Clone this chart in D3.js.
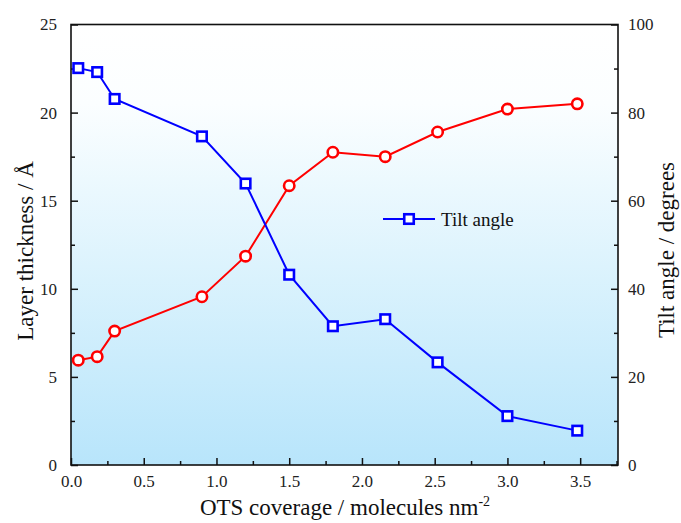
<!DOCTYPE html>
<html>
<head>
<meta charset="utf-8">
<script src="https://cdn.jsdelivr.net/npm/d3@7"></script>
<style>
  body { margin: 0; background: #fff; }
  svg { display: block; }
  text { font-family: "Times New Roman", "Liberation Serif", Tinos, "DejaVu Serif", serif; }
  .tick text { fill: #222; font-size: 17px; }
</style>
</head>
<body>
<div id="container"></div>
<script>
// chart values
var coverage = [0.05, 0.18, 0.30, 0.90, 1.20, 1.50, 1.80, 2.16, 2.52, 3.00, 3.48];
var thickness = [5.95, 6.15, 7.6, 9.55, 11.85, 15.85, 17.75, 17.5, 18.9, 20.2, 20.5];
var tiltAngle = [90.1, 89.2, 83.1, 74.6, 63.9, 43.2, 31.5, 33.1, 23.3, 11.1, 7.8];

var xTicks = [0, 0.5, 1.0, 1.5, 2.0, 2.5, 3.0, 3.5];
var leftTicks = [0, 5, 10, 15, 20, 25];
var rightTicks = [0, 20, 40, 60, 80, 100];

var w = 681, h = 523;
var m = {left: 71, right: 618, top: 24.5, bottom: 465};
var serif = "'Times New Roman', 'Liberation Serif', Tinos, 'DejaVu Serif', serif";

var svg = d3.select("div#container").append("svg")
    .attr("width", w).attr("height", h)
    .attr("font-family", serif);

var x = d3.scaleLinear().domain([0, 3.76]).range([m.left, m.right]);
var yL = d3.scaleLinear().domain([0, 25]).range([m.bottom, m.top]);
var yR = d3.scaleLinear().domain([0, 100]).range([m.bottom, m.top]);

//background gradient in plot area
var defs = svg.append("defs");
var grad = defs.append("linearGradient").attr("id", "bg")
    .attr("x1", 0).attr("y1", 0).attr("x2", 0).attr("y2", 1);
grad.append("stop").attr("offset", "0%").attr("stop-color", "#ffffff");
grad.append("stop").attr("offset", "18%").attr("stop-color", "#fbfeff");
grad.append("stop").attr("offset", "55%").attr("stop-color", "#dcf3fd");
grad.append("stop").attr("offset", "100%").attr("stop-color", "#b8e5fb");

svg.append("rect")
    .attr("x", m.left).attr("y", m.top)
    .attr("width", m.right - m.left).attr("height", m.bottom - m.top)
    .attr("fill", "url(#bg)");

//minor tick values
var xMinor = d3.range(0.25, 3.76, 0.5);
var lMinor = d3.range(2.5, 25, 5);
var rMinor = d3.range(10, 100, 20);

function styleAxis(g) {
  g.attr("font-family", serif).attr("font-size", 17);
  g.select(".domain").remove();
  g.selectAll(".tick line").attr("stroke", "#111").attr("stroke-width", 1.5);
  g.selectAll(".tick text").attr("font-family", serif);
}

svg.append("g").attr("transform", "translate(0," + m.bottom + ")")
  .call(d3.axisBottom(x).tickValues(xTicks).tickFormat(d3.format(".1f")).tickSize(-7).tickPadding(10))
  .call(styleAxis);
svg.append("g").attr("transform", "translate(0," + m.bottom + ")")
  .call(d3.axisBottom(x).tickValues(xMinor).tickFormat("").tickSize(-4))
  .call(styleAxis);

svg.append("g").attr("transform", "translate(" + m.left + ",0)")
  .call(d3.axisLeft(yL).tickValues(leftTicks).tickFormat(d3.format("d")).tickSize(-7).tickPadding(14))
  .call(styleAxis);
svg.append("g").attr("transform", "translate(" + m.left + ",0)")
  .call(d3.axisLeft(yL).tickValues(lMinor).tickFormat("").tickSize(-4))
  .call(styleAxis);

svg.append("g").attr("transform", "translate(" + m.right + ",0)")
  .call(d3.axisRight(yR).tickValues(rightTicks).tickFormat(d3.format("d")).tickSize(-7).tickPadding(10))
  .call(styleAxis);
svg.append("g").attr("transform", "translate(" + m.right + ",0)")
  .call(d3.axisRight(yR).tickValues(rMinor).tickFormat("").tickSize(-4))
  .call(styleAxis);

//frame
svg.append("rect")
    .attr("x", m.left).attr("y", m.top)
    .attr("width", m.right - m.left).attr("height", m.bottom - m.top)
    .attr("fill", "none").attr("stroke", "#111").attr("stroke-width", 1.6);

//series
var redData = coverage.map(function(c, i) { return [c, thickness[i]]; });
var blueData = coverage.map(function(c, i) { return [c, tiltAngle[i]]; });

svg.append("path").datum(redData)
    .attr("fill", "none").attr("stroke", "#ff0000").attr("stroke-width", 2)
    .attr("d", d3.line().x(function(d) { return x(d[0]); }).y(function(d) { return yL(d[1]); }));
svg.append("path").datum(blueData)
    .attr("fill", "none").attr("stroke", "#0000ff").attr("stroke-width", 2)
    .attr("d", d3.line().x(function(d) { return x(d[0]); }).y(function(d) { return yR(d[1]); }));

svg.append("g").selectAll("circle").data(redData).enter().append("circle")
    .attr("cx", function(d) { return x(d[0]); })
    .attr("cy", function(d) { return yL(d[1]); })
    .attr("r", 5.2)
    .attr("fill", "#fff").attr("stroke", "#ff0000").attr("stroke-width", 2.6);

var sq = 9.5;
svg.append("g").selectAll("rect").data(blueData).enter().append("rect")
    .attr("x", function(d) { return x(d[0]) - sq / 2; })
    .attr("y", function(d) { return yR(d[1]) - sq / 2; })
    .attr("width", sq).attr("height", sq)
    .attr("fill", "#fff").attr("stroke", "#0000ff").attr("stroke-width", 2.6);

//legend
var lg = svg.append("g").attr("transform", "translate(383,219)");
lg.append("line").attr("x1", 0).attr("x2", 52).attr("y1", 0).attr("y2", 0)
    .attr("stroke", "#0000ff").attr("stroke-width", 2);
lg.append("rect").attr("x", 26 - sq / 2).attr("y", -sq / 2).attr("width", sq).attr("height", sq)
    .attr("fill", "#fff").attr("stroke", "#0000ff").attr("stroke-width", 2.6);
lg.append("text").attr("x", 58).attr("y", 7).attr("font-size", 19).attr("fill", "#111")
    .text("Tilt angle");

//axis titles
svg.append("text")
    .attr("transform", "translate(33,251) rotate(-90)")
    .attr("text-anchor", "middle").attr("font-size", 23).attr("fill", "#111")
    .text("Layer thickness / Å");

svg.append("text")
    .attr("transform", "translate(674,250) rotate(-90)")
    .attr("text-anchor", "middle").attr("font-size", 23).attr("fill", "#111")
    .text("Tilt angle / degrees");

var xt = svg.append("text")
    .attr("x", 345).attr("y", 515)
    .attr("text-anchor", "middle").attr("font-size", 23).attr("fill", "#111");
xt.append("tspan").text("OTS coverage / molecules nm");
xt.append("tspan").attr("font-size", 14).attr("dy", -9).text("-2");
</script>
</body>
</html>
